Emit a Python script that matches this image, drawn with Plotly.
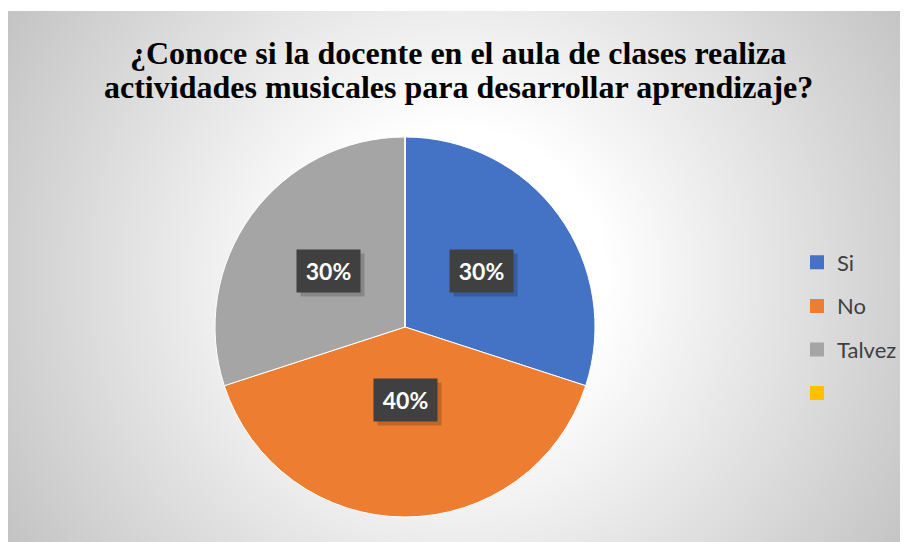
import base64
import math
import plotly.graph_objects as go

# ---- data ----
categories = ["Si", "No", "Talvez", " "]
values = [30, 40, 30, 0]
colors = ["#4472C4", "#ED7D31", "#A5A5A5", "#FFC000"]
title_lines = ["¿Conoce si la docente en el aula de clases realiza",
               "actividades musicales para desarrollar aprendizaje?"]

W, H = 908, 542
CX, CY, R = 397, 319, 190  # pie centre / radius in px (figure coords)

svg = f'''<svg xmlns="http://www.w3.org/2000/svg" width="900" height="531">
<defs><radialGradient id="g" gradientUnits="userSpaceOnUse" cx="450" cy="265" r="520">
<stop offset="0" stop-color="#ffffff"/><stop offset="0.28" stop-color="#ffffff"/>
<stop offset="1" stop-color="#c4c4c4"/></radialGradient></defs>
<rect x="0" y="0" width="900" height="531" fill="url(#g)"/></svg>'''
src = "data:image/svg+xml;base64," + base64.b64encode(svg.encode()).decode()

fig = go.Figure()
fig.add_trace(go.Pie(
    labels=categories, values=values, sort=False, direction="clockwise", rotation=0,
    marker=dict(colors=colors, line=dict(color="#ffffff", width=1)),
    textinfo="none", hoverinfo="label+percent", showlegend=False,
    domain=dict(x=[(CX - R) / W, (CX + R) / W], y=[1 - (CY + R) / H, 1 - (CY - R) / H]),
))

# legend entries
for i, (c, col) in enumerate(zip(categories, colors)):
    fig.add_trace(go.Scatter(x=[None], y=[None], mode="markers", name=c,
                             legendgroup=f"g{i}",
                             marker=dict(symbol="square", size=14, color=col)))

# percentage labels
total = sum(values)
cum = 0
annotations = []
for v in values:
    if v > 0:
        theta = math.radians((cum + v / 2) / total * 360)
        px = CX + 0.5 * R * math.sin(theta)
        py = CY - 0.5 * R * math.cos(theta)
        pct = f"<b>{round(v / total * 100)}%</b>"
        annotations.append(dict(x=(px + 4) / W, y=1 - (py + 4) / H, xref="paper", yref="paper",
                                text=" ", showarrow=False, width=63, height=42, borderpad=0,
                                bgcolor="rgba(0,0,0,0.18)"))
        annotations.append(dict(x=px / W, y=1 - py / H, xref="paper", yref="paper",
                                text=pct, showarrow=False, width=63, height=42, borderpad=0,
                                bgcolor="#404040",
                                font=dict(family="Lato", size=23, color="#ffffff")))
    cum += v

# title lines
title_font = dict(family="Liberation Serif", size=32, color="#000000", weight="bold")
for line, ty in zip(title_lines, [45, 79]):
    annotations.append(dict(x=450 / W, y=1 - ty / H, xref="paper", yref="paper",
                            xanchor="center", yanchor="middle", showarrow=False,
                            text=line, font=title_font))

fig.update_layout(
    width=W, height=H,
    margin=dict(l=0, r=0, t=0, b=0),
    paper_bgcolor="#ffffff", plot_bgcolor="rgba(0,0,0,0)",
    xaxis=dict(visible=False), yaxis=dict(visible=False),
    images=[dict(source=src, xref="paper", yref="paper", x=0, y=1 - 3 / H,
                 sizex=900 / W, sizey=531 / H, sizing="stretch", layer="below",
                 xanchor="left", yanchor="top")],
    legend=dict(x=789 / W, xanchor="left", y=1 - 320 / H, yanchor="middle",
                font=dict(family="Lato", size=22, color="#404040"),
                tracegroupgap=12, bgcolor="rgba(0,0,0,0)"),
    annotations=annotations,
)

fig.write_html("out.html")
